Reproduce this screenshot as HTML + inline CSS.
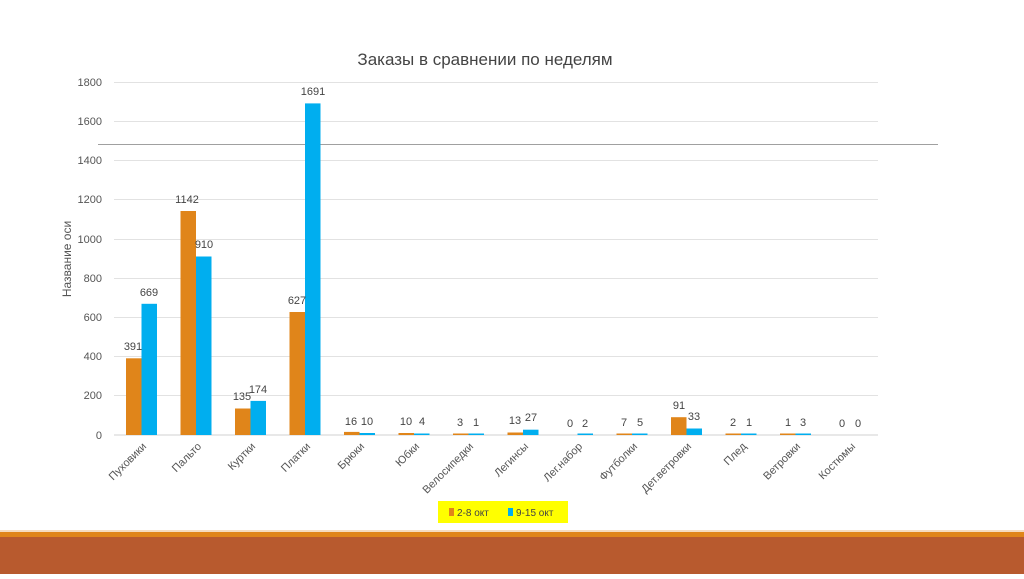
<!DOCTYPE html><html><head><meta charset="utf-8"><style>body{margin:0;width:1024px;height:574px;overflow:hidden;background:#fff}</style></head><body>
<svg width="1024" height="574" xmlns="http://www.w3.org/2000/svg" font-family="Liberation Sans, DejaVu Sans, sans-serif">
<rect x="0" y="530" width="1024" height="2" fill="#f6dcc0"/>
<rect x="0" y="532" width="1024" height="5" fill="#e0851a"/>
<rect x="0" y="537" width="1024" height="37" fill="#b85a2e"/>
<text x="485" y="65" font-size="17" fill="#444" text-anchor="middle">Заказы в сравнении по неделям</text>
<g stroke="#e2e2e2" stroke-width="1">
<line x1="114" x2="878" y1="82.5" y2="82.5"/><line x1="114" x2="878" y1="121.5" y2="121.5"/><line x1="114" x2="878" y1="160.5" y2="160.5"/><line x1="114" x2="878" y1="199.5" y2="199.5"/><line x1="114" x2="878" y1="239.5" y2="239.5"/><line x1="114" x2="878" y1="278.5" y2="278.5"/><line x1="114" x2="878" y1="317.5" y2="317.5"/><line x1="114" x2="878" y1="356.5" y2="356.5"/><line x1="114" x2="878" y1="395.5" y2="395.5"/><line x1="114" x2="878" y1="435" y2="435" stroke="#d0d0d0"/>
</g>
<line x1="98" x2="938" y1="144.5" y2="144.5" stroke="#a0a0a0"/>
<g font-size="11" fill="#555" text-anchor="end">
<text x="102" y="86">1800</text><text x="102" y="125">1600</text><text x="102" y="164">1400</text><text x="102" y="203">1200</text><text x="102" y="243">1000</text><text x="102" y="282">800</text><text x="102" y="321">600</text><text x="102" y="360">400</text><text x="102" y="399">200</text><text x="102" y="439">0</text>
</g>
<text transform="translate(71,259) rotate(-90)" font-size="12" fill="#555" text-anchor="middle">Название оси</text>
<g fill="#e0851a">
<rect x="126" y="358.3" width="15.5" height="76.7"/>
<rect x="180.5" y="211" width="15.5" height="224"/>
<rect x="235" y="408.5" width="15.5" height="26.5"/>
<rect x="289.5" y="312" width="15.5" height="123"/>
<rect x="344" y="431.9" width="15.5" height="3.1"/>
<rect x="398.5" y="433" width="15.5" height="2"/>
<rect x="453" y="433.5" width="15.5" height="1.5"/>
<rect x="507.5" y="432.5" width="15.5" height="2.5"/>
<rect x="616.5" y="433.5" width="15.5" height="1.5"/>
<rect x="671" y="417.2" width="15.5" height="17.8"/>
<rect x="725.5" y="433.5" width="15.5" height="1.5"/>
<rect x="780" y="433.5" width="15.5" height="1.5"/>
</g>
<g fill="#00aeef">
<rect x="141.5" y="303.8" width="15.5" height="131.2"/>
<rect x="196" y="256.5" width="15.5" height="178.5"/>
<rect x="250.5" y="400.9" width="15.5" height="34.1"/>
<rect x="305" y="103.4" width="15.5" height="331.6"/>
<rect x="359.5" y="433" width="15.5" height="2"/>
<rect x="414" y="433.5" width="15.5" height="1.5"/>
<rect x="468.5" y="433.5" width="15.5" height="1.5"/>
<rect x="523" y="429.7" width="15.5" height="5.3"/>
<rect x="577.5" y="433.5" width="15.5" height="1.5"/>
<rect x="632" y="433.5" width="15.5" height="1.5"/>
<rect x="686.5" y="428.5" width="15.5" height="6.5"/>
<rect x="741" y="433.5" width="15.5" height="1.5"/>
<rect x="795.5" y="433.5" width="15.5" height="1.5"/>
</g>
<g font-size="11" fill="#444" text-anchor="middle">
<text x="133" y="350">391</text><text x="149" y="296">669</text>
<text x="187" y="203">1142</text><text x="204" y="248">910</text>
<text x="242" y="400">135</text><text x="258" y="393">174</text>
<text x="297" y="304">627</text><text x="313" y="95">1691</text>
<text x="351" y="425">16</text><text x="367" y="425">10</text>
<text x="406" y="425">10</text><text x="422" y="425">4</text>
<text x="460" y="426">3</text><text x="476" y="426">1</text>
<text x="515" y="424">13</text><text x="531" y="421">27</text>
<text x="570" y="427">0</text><text x="585" y="427">2</text>
<text x="624" y="426">7</text><text x="640" y="426">5</text>
<text x="679" y="409">91</text><text x="694" y="420">33</text>
<text x="733" y="426">2</text><text x="749" y="426">1</text>
<text x="788" y="426">1</text><text x="803" y="426">3</text>
<text x="842" y="427">0</text><text x="858" y="427">0</text>
</g>
<g font-size="11" fill="#555" text-anchor="end">
<text transform="translate(147,447) rotate(-45)">Пуховики</text>
<text transform="translate(202,447) rotate(-45)">Пальто</text>
<text transform="translate(256,447) rotate(-45)">Куртки</text>
<text transform="translate(311,447) rotate(-45)">Платки</text>
<text transform="translate(365,447) rotate(-45)">Брюки</text>
<text transform="translate(420,447) rotate(-45)">Юбки</text>
<text transform="translate(474,447) rotate(-45)">Велосипедки</text>
<text transform="translate(529,447) rotate(-45)">Легинсы</text>
<text transform="translate(583,447) rotate(-45)">Лег.набор</text>
<text transform="translate(638,447) rotate(-45)">Футболки</text>
<text transform="translate(692,447) rotate(-45)">Дет.ветровки</text>
<text transform="translate(747,447) rotate(-45)">Плед</text>
<text transform="translate(801,447) rotate(-45)">Ветровки</text>
<text transform="translate(856,447) rotate(-45)">Костюмы</text>
</g>
<rect x="438" y="501" width="130" height="22" fill="#ffff00"/>
<rect x="449" y="508" width="5" height="8" fill="#e0851a"/>
<text x="457" y="516" font-size="10" fill="#444">2-8 окт</text>
<rect x="508" y="508" width="5" height="8" fill="#00aeef"/>
<text x="516" y="516" font-size="10" fill="#444">9-15 окт</text>
</svg>
</body></html>
